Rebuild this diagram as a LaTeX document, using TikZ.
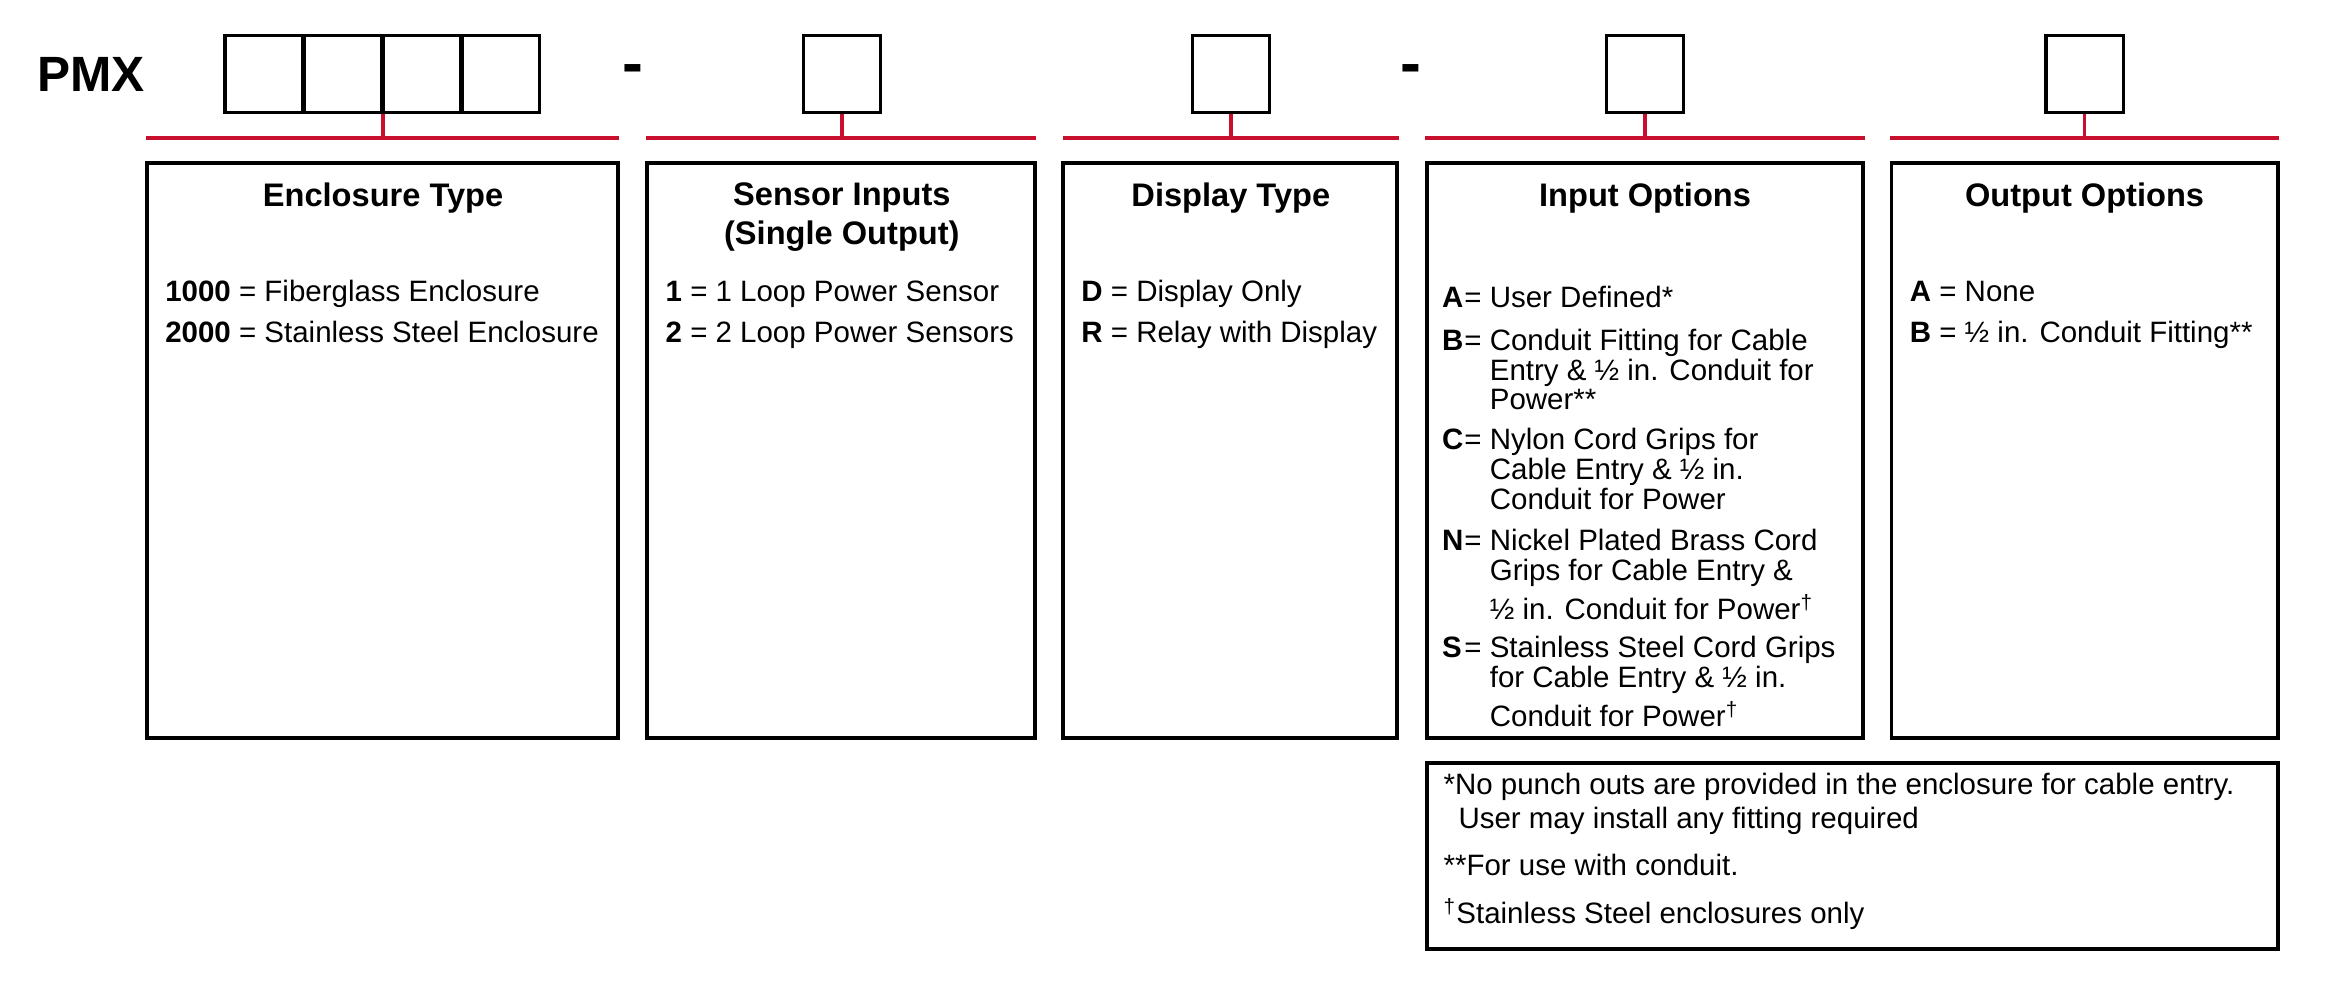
\documentclass[tikz,border=0pt]{standalone}
\usepackage{fontspec}
\setmainfont{Liberation Sans}
\usetikzlibrary{positioning}
\definecolor{codered}{RGB}{200,16,46}
\tikzstyle{codebox} = [rectangle, draw, line width=1.2pt, minimum width=1.04cm, minimum height=1.04cm, inner sep=0pt]
\tikzstyle{panel} = [draw, line width=1.5pt]
\tikzstyle{redline} = [draw=codered, line width=1.5pt]
\tikzstyle{title} = [font=\fontsize{12.5}{15}\selectfont\bfseries, align=center, anchor=north]
\tikzstyle{entry} = [font=\fontsize{11.3}{11.4}\selectfont, anchor=base west, inner sep=0pt]
\tikzstyle{hyphen} = [font=\fontsize{24}{26}\selectfont\bfseries, inner sep=0pt]
\newcommand{\keyed}[3]{\makebox[0.3cm][l]{\textbf{#1}}= \parbox[t]{#2}{#3}}

\begin{document}
\begin{tikzpicture}[x=0.02cm, y=-0.02cm]
  \useasboundingbox (0,0) rectangle (1568,666);

  % Model code
  \node (pmx) [font=\fontsize{19}{22}\selectfont\bfseries, anchor=west, inner sep=0pt] at (25,50) {PMX};
  \foreach \i in {0,...,3}
    \node (enc\i) [codebox] at (177.5+53.3*\i,50) {};
  \node (dash1) [hyphen] at (426,50) {-};
  \node (sen) [codebox] at (567,50) {};
  \node (dsp) [codebox] at (829,50) {};
  \node (dash2) [hyphen] at (950,50) {-};
  \node (inp) [codebox] at (1108,50) {};
  \node (out) [codebox] at (1404,50) {};

  % Red brackets
  \coordinate (encjoin) at (258,93);
  \draw[redline] (98,93) -- (417,93);
  \draw[redline] (435,93) -- (698,93);
  \draw[redline] (716,93) -- (942,93);
  \draw[redline] (960,93) -- (1256,93);
  \draw[redline] (1273,93) -- (1535,93);
  \draw[redline] (encjoin |- enc1.south) -- (encjoin);
  \draw[redline] (sen.south) -- (sen.south |- encjoin);
  \draw[redline] (dsp.south) -- (dsp.south |- encjoin);
  \draw[redline] (inp.south) -- (inp.south |- encjoin);
  \draw[redline] (out.south) -- (out.south |- encjoin);

  % Panels
  \draw[panel] (99,110) rectangle (416,497);
  \draw[panel] (436,110) rectangle (697,497);
  \draw[panel] (716,110) rectangle (941,497);
  \draw[panel] (961,110) rectangle (1255,497);
  \draw[panel] (1274,110) rectangle (1534,497);
  \draw[panel] (961,514) rectangle (1534,639);

  % Titles
  \node (t1) [title] at (258,117) {Enclosure Type};
  \node (t2) [title] at (567,117) {Sensor Inputs\\(Single Output)};
  \node (t3) [title] at (829,117) {Display Type};
  \node (t4) [title] at (1108,117) {Input Options};
  \node (t5) [title] at (1404,117) {Output Options};

  % Enclosure type
  \node (e1) [entry] at (111,203) {\textbf{1000} = Fiberglass Enclosure};
  \node (e2) [entry] at (111,231) {\textbf{2000} = Stainless Steel Enclosure};

  % Sensor inputs
  \node (s1) [entry] at (448,203) {\textbf{1} = 1 Loop Power Sensor};
  \node (s2) [entry] at (448,231) {\textbf{2} = 2 Loop Power Sensors};

  % Display type
  \node (d1) [entry] at (728,203) {\textbf{D} = Display Only};
  \node (d2) [entry] at (728,231) {\textbf{R} = Relay with Display};

  % Input options
  \node (iA) [entry] at (971,207) {\keyed{A}{4.9cm}{User Defined*}};
  \node (iB) [entry] at (971,236) {\keyed{B}{4.9cm}{Conduit Fitting for Cable\\Entry \& ½ in. Conduit for\\Power**}};
  \node (iC) [entry] at (971,303) {\keyed{C}{4.9cm}{Nylon Cord Grips for\\Cable Entry \& ½ in.\\Conduit for Power}};
  \node (iN) [entry] at (971,371) {\keyed{N}{4.9cm}{Nickel Plated Brass Cord\\Grips for Cable Entry \&\\[2pt]½ in. Conduit for Power\textsuperscript{†}}};
  \node (iS) [entry] at (971,443) {\keyed{S}{4.9cm}{Stainless Steel Cord Grips\\for Cable Entry \& ½ in.\\[2pt]Conduit for Power\textsuperscript{†}}};

  % Output options
  \node (o1) [entry] at (1286,203) {\textbf{A} = None};
  \node (o2) [entry] at (1286,231) {\textbf{B} = ½ in. Conduit Fitting**};

  % Notes
  \node (n1) [entry] at (972,535) {*No punch outs are provided in the enclosure for cable entry.};
  \node (n1b) [entry] at (982,558) {User may install any fitting required};
  \node (n2) [entry] at (972,590) {**For use with conduit.};
  \node (n3) [entry] at (972,622) {\textsuperscript{†}Stainless Steel enclosures only};
\end{tikzpicture}
\end{document}
